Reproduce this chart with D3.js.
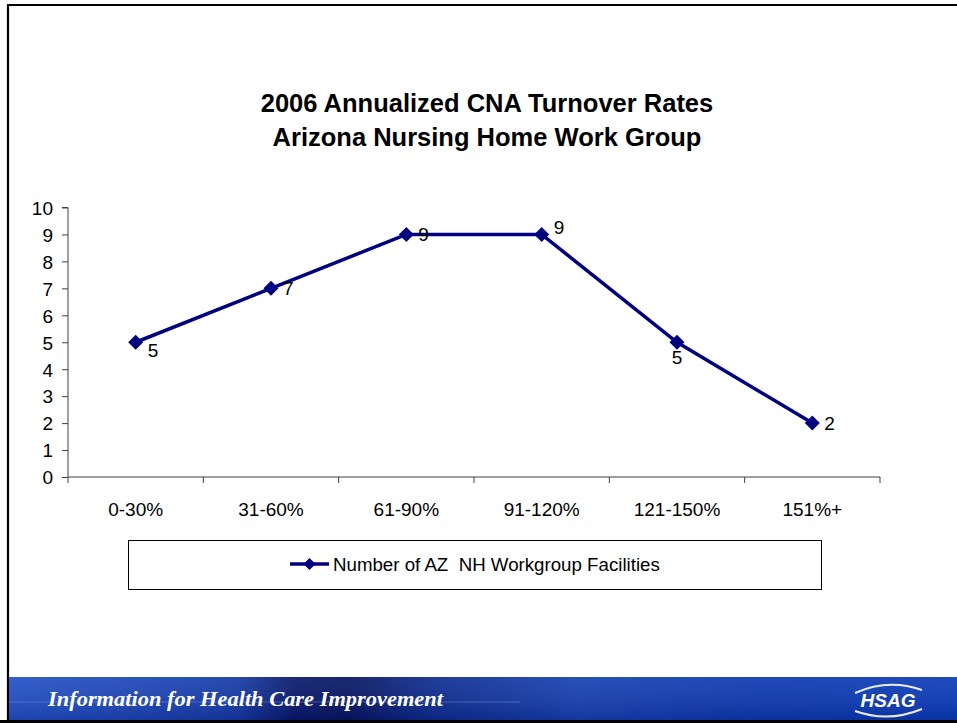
<!DOCTYPE html>
<html><head><meta charset="utf-8">
<script src="https://cdn.jsdelivr.net/npm/d3@7"></script>
<style>body{margin:0;background:#fff}svg{display:block}text{font-family:"Liberation Sans",Arial,sans-serif}</style>
</head><body><svg id="c" width="957" height="723"></svg>
<script>
const titleLines = ["2006 Annualized CNA Turnover Rates", "Arizona Nursing Home Work Group"];
const categories = ["0-30%", "31-60%", "61-90%", "91-120%", "121-150%", "151%+"];
const values = [5, 7, 9, 9, 5, 2];
const labelPlacement = ["belowright", "right", "right", "aboveright", "below", "right"];
const yTicks = [0,1,2,3,4,5,6,7,8,9,10];
const seriesName = "Number of AZ  NH Workgroup Facilities";
const bannerText = "Information for Health Care Improvement";
const logoText = "HSAG";

const svg = d3.select("#c");
const navy = "#000080";

// slide frame
svg.append("line").attr("x1",8).attr("x2",957).attr("y1",5).attr("y2",5).attr("stroke","#000").attr("stroke-width",2.2);
svg.append("line").attr("x1",8).attr("x2",8).attr("y1",4).attr("y2",723).attr("stroke","#000").attr("stroke-width",2.2);

// title
svg.append("g").selectAll("text").data(titleLines).join("text")
  .attr("x",487).attr("y",(d,i)=>112+i*34).attr("text-anchor","middle")
  .attr("font-size",25.5).attr("font-weight","bold").attr("fill","#000").text(d=>d);

const x = d3.scaleBand().domain(categories).range([68,880]);
const y = d3.scaleLinear().domain([0,10]).range([477,207.5]);

// y axis
const ya = svg.append("g").attr("transform","translate(68,0)")
  .call(d3.axisLeft(y).tickValues(yTicks).tickSize(6).tickPadding(9).tickFormat(d3.format("d")));
ya.selectAll("path,line").attr("stroke","#404040");
ya.select(".domain").attr("d", `M-6,${y(10)}H0V${y(0)}`);
ya.selectAll("text").attr("font-size",19).attr("fill","#000").attr("font-family",null).attr("dy","0.36em");

// x axis
const xa = svg.append("g").attr("transform","translate(0,477)")
  .call(d3.axisBottom(x).tickSize(0).tickPadding(26));
xa.selectAll("path").attr("stroke","#404040");
xa.select(".domain").attr("d","M68,0H880");
xa.selectAll("text").attr("font-size",19).attr("fill","#000").attr("font-family",null);
// category boundary ticks
const bounds = categories.map(c=>x(c)).concat([x.range()[1]]);
svg.append("g").selectAll("line").data(bounds).join("line")
  .attr("x1",d=>d).attr("x2",d=>d).attr("y1",477).attr("y2",483).attr("stroke","#404040");

const cx = d => x(d) + x.bandwidth()/2;
const pts = categories.map((c,i)=>({c, v: values[i], p: labelPlacement[i]}));

svg.append("path").datum(pts)
  .attr("d", d3.line().x(d=>cx(d.c)).y(d=>y(d.v)))
  .attr("fill","none").attr("stroke",navy).attr("stroke-width",3.5);

svg.append("g").selectAll("path").data(pts).join("path")
  .attr("transform",d=>`translate(${cx(d.c)},${y(d.v)})`)
  .attr("d", "M0,-7.5L7.5,0L0,7.5L-7.5,0Z").attr("fill",navy);

const off = {
  right:[12,7,"start"], belowright:[12,15,"start"], aboveright:[12,0,"start"], below:[0,22,"middle"]
};
svg.append("g").selectAll("text").data(pts).join("text")
  .attr("x",d=>cx(d.c)+off[d.p][0]).attr("y",d=>y(d.v)+off[d.p][1])
  .attr("text-anchor",d=>off[d.p][2]).attr("font-size",19).attr("fill","#000").text(d=>d.v);

// legend
const lg = svg.append("g");
lg.append("rect").attr("x",128.5).attr("y",540.5).attr("width",693).attr("height",49)
  .attr("fill","#fff").attr("stroke","#000").attr("stroke-width",1);
lg.append("line").attr("x1",290).attr("x2",329).attr("y1",564).attr("y2",564).attr("stroke",navy).attr("stroke-width",3.5);
lg.append("path").attr("d","M0,-6L6,0L0,6L-6,0Z").attr("transform","translate(309.5,564)").attr("fill",navy);
lg.append("text").attr("x",333).attr("y",571).attr("font-size",18.7).attr("fill","#000")
  .style("white-space","pre").text(seriesName);

// banner
const defs = svg.append("defs");
const g1 = defs.append("linearGradient").attr("id","bg").attr("x1","0").attr("x2","1").attr("y1","0").attr("y2","0");
[[0,"#2250c4"],[0.12,"#1d46b8"],[0.24,"#143aa6"],[0.3,"#07186a"],[0.36,"#061560"],[0.45,"#0d2c90"],[0.6,"#1540b0"],[0.8,"#0c38b0"],[1,"#0a3bb8"]]
  .forEach(s=>g1.append("stop").attr("offset",s[0]).attr("stop-color",s[1]));
svg.append("rect").attr("x",9).attr("y",677).attr("width",948).attr("height",43).attr("fill","url(#bg)");
const g2 = defs.append("linearGradient").attr("id","bg2").attr("x1","0").attr("x2","0").attr("y1","0").attr("y2","1");
g2.append("stop").attr("offset",0).attr("stop-color","#ffffff").attr("stop-opacity",0.08);
g2.append("stop").attr("offset",1).attr("stop-color","#000033").attr("stop-opacity",0.15);
svg.append("rect").attr("x",9).attr("y",677).attr("width",948).attr("height",43).attr("fill","url(#bg2)");
svg.append("line").attr("x1",9).attr("x2",520).attr("y1",702).attr("y2",702).attr("stroke","#6f8fe0").attr("stroke-opacity",0.5).attr("stroke-width",1);
svg.append("rect").attr("x",0).attr("y",720).attr("width",957).attr("height",3).attr("fill","#000");
svg.append("text").attr("x",48).attr("y",706)
  .style("font-family","'Liberation Serif','Times New Roman',serif")
  .attr("font-style","italic").attr("font-weight","bold").attr("font-size",22).attr("fill","#fff")
  .attr("textLength",395).attr("lengthAdjust","spacingAndGlyphs").text(bannerText);
// logo
svg.append("path").attr("d","M855,693 Q888,678 922,690").attr("fill","none").attr("stroke","#e8ecf8").attr("stroke-width",2);
svg.append("path").attr("d","M855,711 Q888,723 922,709").attr("fill","none").attr("stroke","#e8ecf8").attr("stroke-width",2);
svg.append("text").attr("x",888).attr("y",707).attr("text-anchor","middle").attr("font-size",19)
  .attr("font-weight","bold").attr("font-style","italic").attr("fill","#fff").text(logoText);
</script></body></html>
